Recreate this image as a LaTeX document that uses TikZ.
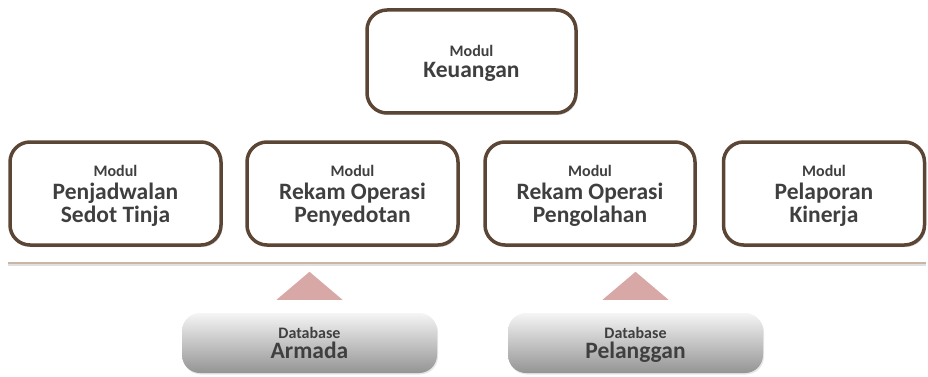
\documentclass[tikz,border=0pt]{standalone}
\usepackage{fontspec}
\setmainfont{Carlito}
\usetikzlibrary{shadows,calc}
\definecolor{brd}{HTML}{5B4636}
\definecolor{txt}{HTML}{3F3F3F}
\definecolor{tri}{HTML}{D8A8A6}
\definecolor{sep}{HTML}{C9B6A6}
\tikzset{
  modbox/.style={draw=brd, line width=3.5pt, fill=white, rounded corners=20pt,
    minimum height=103pt, align=center, text=txt, text depth=0pt,
    font=\bfseries\fontsize{23.5}{23}\selectfont,
    drop shadow={opacity=0.3, shadow xshift=1.5pt, shadow yshift=-2pt}},
  dbbox/.style={rounded corners=18pt, top color=black!4, bottom color=black!42,
    minimum width=255pt, minimum height=60pt, align=center, text=txt, text depth=0pt,
    font=\bfseries\fontsize{23.5}{20.5}\selectfont,
    drop shadow={opacity=0.2, shadow xshift=1pt, shadow yshift=-1.5pt}},
  trishape/.style={fill=tri, draw=none}
}
\newcommand{\smallt}[1]{{\fontsize{16}{16}\selectfont #1}}
\begin{document}
\begin{tikzpicture}[x=1pt,y=-1pt]
\useasboundingbox (0,0) rectangle (928,377);
\node[modbox, minimum width=209pt, font=\bfseries\fontsize{23.5}{20.5}\selectfont] (keu) at (471.5,61.5)
  {\smallt{Modul}\\Keuangan};
\node[modbox, minimum width=211pt] (jad) at (115.5,193.5)
  {\smallt{Modul}\\Penjadwalan\\Sedot Tinja};
\node[modbox, minimum width=211pt] (sed) at (352.5,193.5)
  {\smallt{Modul}\\Rekam Operasi\\Penyedotan};
\node[modbox, minimum width=210pt] (olah) at (590,193.5)
  {\smallt{Modul}\\Rekam Operasi\\Pengolahan};
\node[modbox, minimum width=201pt] (lap) at (824,193.5)
  {\smallt{Modul}\\Pelaporan\\Kinerja};
\coordinate (sepL) at (8,263);
\coordinate (sepR) at (926,263);
\draw[black!12, line width=2pt] ($(sepL)+(0,1.6)$) -- ($(sepR)+(0,1.6)$);
\draw[sep, line width=1.8pt] (sepL) -- (sepR);
\node[dbbox] (arm) at (309.5,343) {\smallt{Database}\\Armada};
\node[dbbox] (pel) at (635.5,343) {\smallt{Database}\\Pelanggan};
\fill[trishape] ($(arm.north)+(0,-41)$) -- ($(arm.north)+(33,-13)$) -- ($(arm.north)+(-33,-13)$) -- cycle;
\fill[trishape] ($(pel.north)+(0,-41)$) -- ($(pel.north)+(33,-13)$) -- ($(pel.north)+(-33,-13)$) -- cycle;
\end{tikzpicture}
\end{document}
